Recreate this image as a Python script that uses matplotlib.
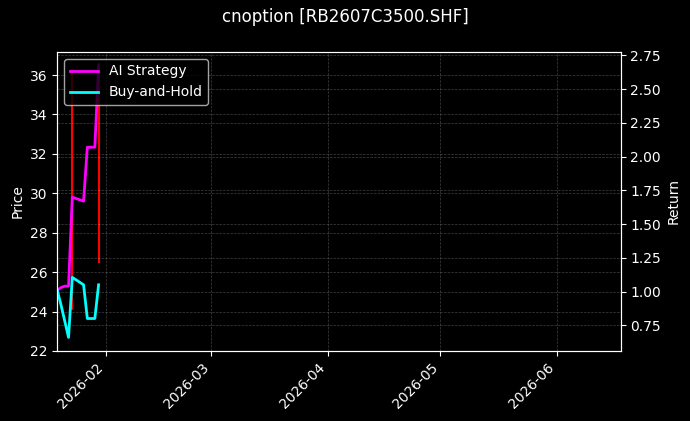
import pandas as pd
import matplotlib
matplotlib.use("Agg")
import matplotlib.pyplot as plt
import matplotlib.dates as mdates

plt.style.use("dark_background")

symbol = "RB2607C3500.SHF"
dates = pd.to_datetime([
    "2026-01-19", "2026-01-20", "2026-01-21", "2026-01-22", "2026-01-23",
    "2026-01-26", "2026-01-27", "2026-01-28", "2026-01-29", "2026-01-30",
])
ai_return = [1.01, 1.03, 1.04, 1.04, 1.70, 1.67, 2.07, 2.07, 2.07, 2.675]
bh_return = [1.01, 0.90, 0.78, 0.66, 1.105, 1.05, 0.80, 0.80, 0.80, 1.05]

# price bars that show up on the chart (high/low)
bar_dates = pd.to_datetime(["2026-01-23", "2026-01-30"])
bar_low = [24.08, 26.46]
bar_high = [36.3, 36.6]

fig, ax1 = plt.subplots(figsize=(6.9, 4.21), dpi=100)
fig.subplots_adjust(left=0.083, right=0.8996, top=0.8765, bottom=0.1663)

ax1.vlines(bar_dates, bar_low, bar_high, color="red", linewidth=1.5)
ax1.set_ylabel("Price")
ax1.set_ylim(22, 37.17)
ax1.set_xlim(pd.Timestamp("2026-01-19"), pd.Timestamp("2026-06-18"))
ax1.xaxis.set_major_locator(mdates.MonthLocator())
ax1.xaxis.set_major_formatter(mdates.DateFormatter("%Y-%m"))
ax1.grid(True, linestyle="--", linewidth=0.5, alpha=0.25)

ax2 = ax1.twinx()
ax2.plot(dates, ai_return, color="magenta", linewidth=2, label="AI Strategy")
ax2.plot(dates, bh_return, color="cyan", linewidth=2, label="Buy-and-Hold")
ax2.set_ylabel("Return")
ax2.grid(True, linestyle="--", linewidth=0.5, alpha=0.25)
ax2.legend(loc="upper left")

for lbl in ax1.get_xticklabels():
    lbl.set_rotation(45)
    lbl.set_ha("right")

fig.suptitle(f"cnoption [{symbol}]")
fig.savefig("out.png")
